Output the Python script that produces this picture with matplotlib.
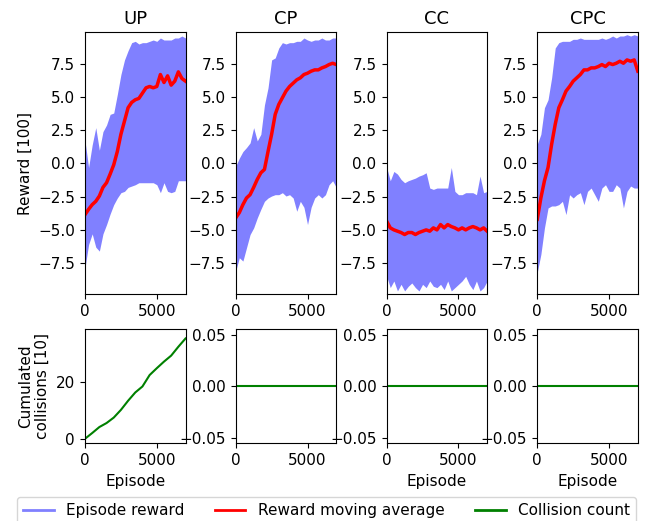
"""
Reward / collision curves for the four agents (UP, CP, CC, CPC).
"""

import numpy as np
import matplotlib
matplotlib.use("Agg")
import matplotlib.pyplot as plt
from matplotlib.lines import Line2D

plt.rcParams["font.size"] = 11
plt.rcParams["xtick.major.size"] = 3.8
plt.rcParams["ytick.major.size"] = 3.8

episodes = list(range(0, 7001, 250))

agents = ["UP", "CP", "CC", "CPC"]

# upper / lower edge of the episode-reward band and the moving average [100]
up_high = [1.7, -0.3, 1.4, 2.7, 1.0, 2.4, 2.9, 3.7, 3.8, 5.2, 6.7, 7.8, 8.5, 9.1, 9.2,
           9.0, 9.1, 9.1, 9.2, 9.3, 9.2, 9.45, 9.3, 9.3, 9.3, 9.45, 9.45, 9.6, 9.45]
up_low = [-7.85, -6.1, -5.3, -6.3, -6.6, -5.3, -4.6, -3.8, -3.1, -2.6, -2.2, -2.1, -1.8, -1.7, -1.6,
          -1.45, -1.45, -1.45, -1.45, -1.45, -1.6, -2.2, -1.45, -2.1, -2.2, -2.1, -1.3, -1.3, -1.3]
up_avg = [-3.85, -3.45, -3.1, -2.85, -2.45, -1.8, -1.45, -0.8, -0.1, 0.9, 2.2, 3.2, 4.2, 4.6, 4.8,
          4.9, 5.3, 5.7, 5.8, 5.7, 5.8, 6.7, 6.1, 6.6, 5.9, 6.2, 6.9, 6.4, 6.2]

cp_high = [-0.2, 0.4, 0.9, 1.2, 1.55, 2.7, 1.7, 2.2, 4.4, 5.7, 7.8, 7.95, 8.7, 9.1, 9.0,
           9.1, 9.1, 9.2, 9.2, 9.45, 9.3, 9.2, 9.3, 9.3, 9.45, 9.3, 9.3, 9.45, 9.45]
cp_low = [-8.1, -7.1, -7.35, -6.35, -5.35, -4.85, -4.1, -3.45, -2.85, -2.6, -2.45, -2.35, -2.35, -2.2, -2.45,
          -2.35, -2.6, -3.6, -2.85, -3.3, -4.6, -3.3, -2.6, -2.35, -2.6, -2.35, -1.6, -1.3, -1.8]
cp_avg = [-4.1, -3.7, -3.1, -2.6, -2.35, -1.8, -1.2, -0.7, -0.45, 0.9, 2.2, 3.7, 4.45, 4.95, 5.45,
          5.8, 6.05, 6.3, 6.45, 6.7, 6.8, 6.95, 7.05, 7.05, 7.2, 7.3, 7.45, 7.55, 7.45]

cc_high = [-0.3, -1.3, -0.6, -0.8, -1.2, -1.45, -1.3, -1.2, -1.1, -0.95, -0.85, -0.7, -1.85, -1.95, -1.85,
           -1.85, -1.85, -1.85, -0.3, -2.1, -2.35, -2.35, -2.2, -2.2, -2.2, -2.35, -0.95, -2.2, -2.1]
cc_low = [-8.5, -9.35, -8.85, -9.6, -9.1, -9.6, -9.25, -9.0, -9.35, -9.6, -9.1, -9.35, -8.85, -9.25, -9.35,
          -9.1, -9.5, -8.85, -9.6, -9.35, -9.1, -8.85, -8.5, -9.1, -9.5, -8.85, -9.6, -9.35, -8.85]
cc_avg = [-4.35, -4.85, -5.0, -5.1, -5.2, -5.35, -5.2, -5.2, -5.35, -5.2, -5.1, -5.0, -5.1, -4.85, -5.0,
          -4.6, -4.85, -4.6, -4.75, -4.85, -5.0, -4.85, -5.0, -4.85, -4.75, -4.85, -5.0, -4.85, -5.1]

cpc_high = [1.45, 2.2, 4.2, 4.8, 6.45, 8.7, 9.1, 9.2, 9.2, 9.2, 9.35, 9.35, 9.45, 9.35, 9.35,
            9.35, 9.35, 9.35, 9.45, 9.35, 9.45, 9.6, 9.45, 9.6, 9.6, 9.7, 9.6, 9.7, 9.6]
cpc_low = [-8.2, -6.85, -4.85, -3.35, -3.2, -3.2, -3.1, -2.85, -3.85, -2.35, -2.6, -2.35, -2.2, -3.1, -2.1,
           -1.85, -2.35, -2.85, -1.85, -1.6, -2.1, -2.1, -1.6, -1.85, -3.35, -2.1, -1.7, -1.85, -1.85]
cpc_avg = [-4.2, -2.6, -1.3, -0.3, 1.45, 2.95, 4.2, 4.8, 5.45, 5.8, 6.2, 6.45, 6.7, 7.05, 7.05,
           7.2, 7.2, 7.3, 7.45, 7.3, 7.55, 7.45, 7.55, 7.7, 7.55, 7.8, 7.7, 7.8, 6.95]

# cumulated collisions [10], every 500 episodes
coll_episodes = list(range(0, 7001, 500))
up_coll = [0, 2.0, 4.1, 5.5, 7.4, 10.1, 13.3, 16.2, 18.3, 22.3, 24.7, 27.0, 29.1, 32.2, 35.1]
cp_coll = [0] * len(coll_episodes)
cc_coll = [0] * len(coll_episodes)
cpc_coll = [0] * len(coll_episodes)

high = [up_high, cp_high, cc_high, cpc_high]
low = [up_low, cp_low, cc_low, cpc_low]
avg = [up_avg, cp_avg, cc_avg, cpc_avg]
coll = [up_coll, cp_coll, cc_coll, cpc_coll]

BAND = "#8080ff"

fig = plt.figure(figsize=(6.46, 5.21), dpi=100)
lefts = [0.1316, 0.3649, 0.5986, 0.8317]
width = 0.1556

for i, name in enumerate(agents):
    ax = fig.add_axes([lefts[i], 0.4357, width, 0.5023])
    ax.fill_between(episodes, low[i], high[i], color=BAND, linewidth=0)
    ax.plot(episodes, avg[i], color="red", linewidth=2.5)
    ax.set_xlim(0, 7000)
    ax.set_ylim(-9.83, 9.88)
    ax.set_yticks([-7.5, -5.0, -2.5, 0.0, 2.5, 5.0, 7.5])
    ax.set_xticks([0, 5000])
    ax.set_title(name, fontsize=13)
    if i == 0:
        ax.set_ylabel("Reward [100]")

    bx = fig.add_axes([lefts[i], 0.1491, width, 0.2188])
    bx.plot(coll_episodes, coll[i], color="green", linewidth=1.5)
    bx.set_xlim(0, 7000)
    bx.set_xticks([0, 5000])
    if i == 0:
        bx.set_ylim(-1.6, 38.3)
        bx.set_yticks([0, 20])
        bx.set_ylabel("Cumulated\ncollisions [10]")
    else:
        bx.set_ylim(-0.055, 0.055)
        bx.set_yticks([-0.05, 0.0, 0.05])
    if i in (0, 2, 3):
        bx.set_xlabel("Episode")

handles = [Line2D([], [], color=BAND, linewidth=2),
           Line2D([], [], color="red", linewidth=2),
           Line2D([], [], color="green", linewidth=2)]
fig.legend(handles, ["Episode reward", "Reward moving average", "Collision count"],
           loc="upper center", bbox_to_anchor=(0.5054, 0.046), ncol=3,
           columnspacing=2.0, borderaxespad=0, frameon=True)

plt.savefig("out.png", dpi=100)
